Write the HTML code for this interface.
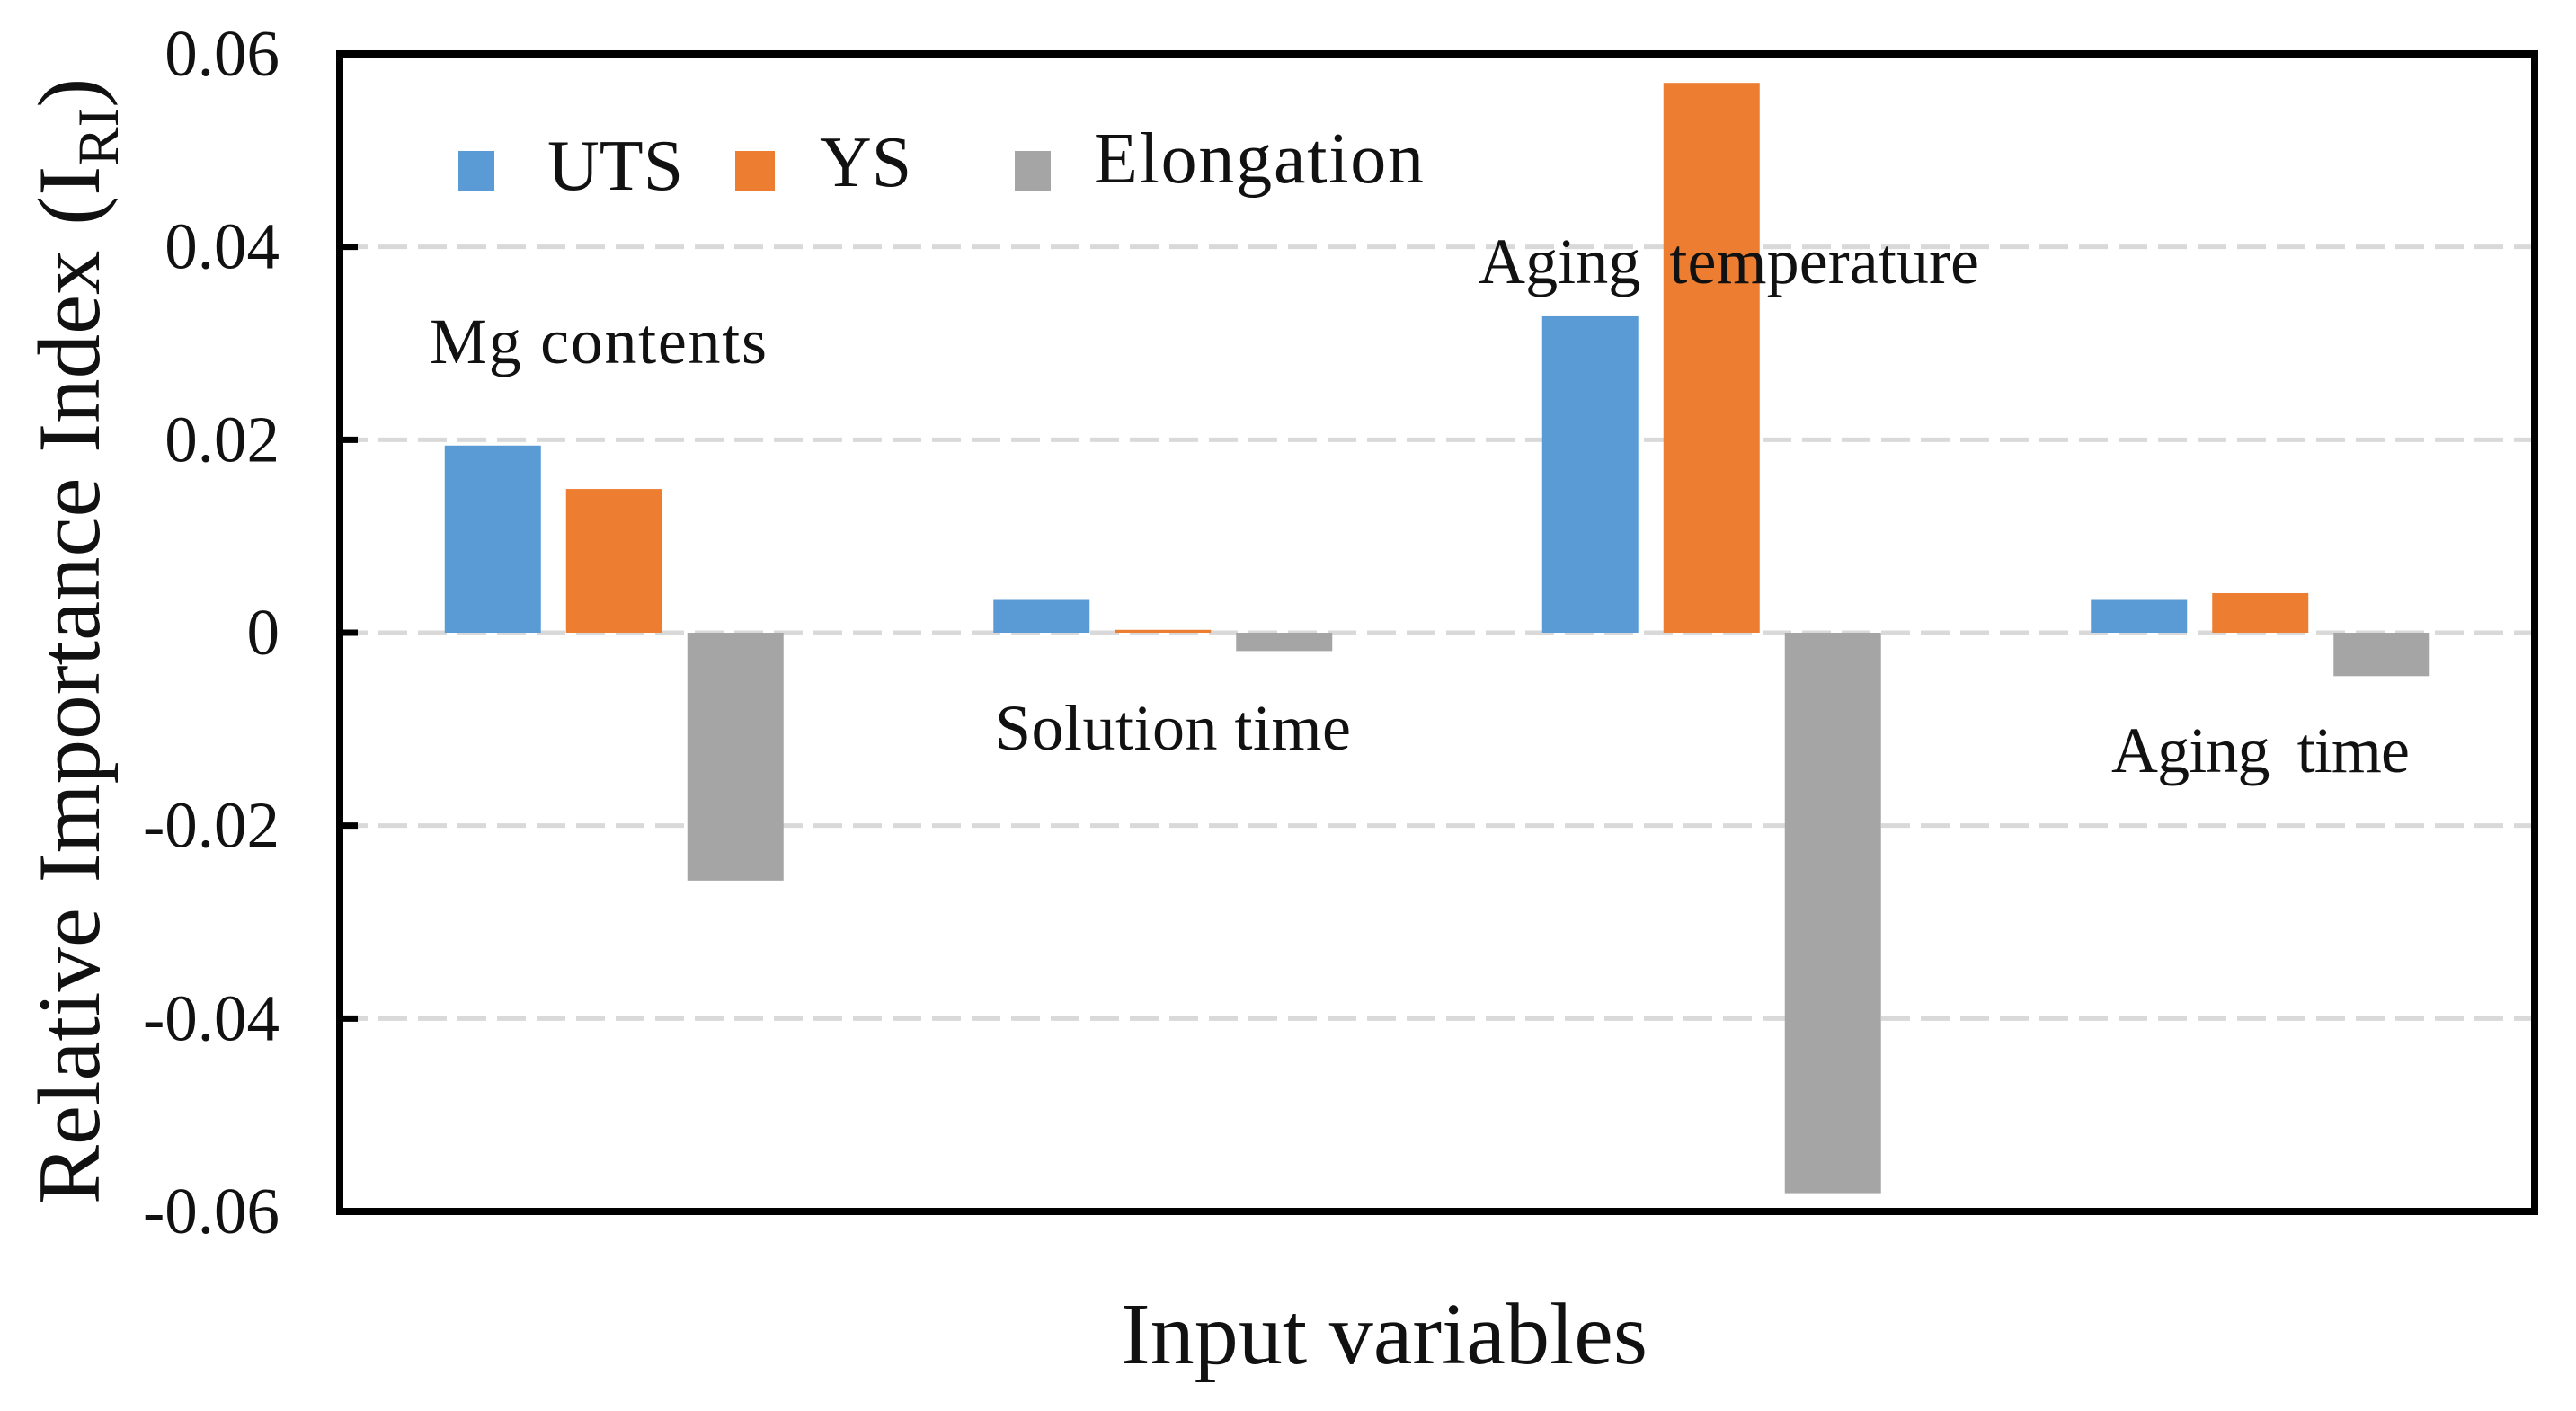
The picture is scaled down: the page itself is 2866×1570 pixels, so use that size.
<!DOCTYPE html>
<html lang="en">
<head>
<meta charset="utf-8">
<title>Relative Importance Index by input variable</title>
<style>
  html, body { margin: 0; padding: 0; background: #fff; }
  body { width: 2866px; height: 1570px; overflow: hidden; }
  svg { display: block; }
  text { font-family: "Liberation Serif", "Times New Roman", serif; fill: #111; }
</style>
</head>
<body>
<svg id="chart" xmlns="http://www.w3.org/2000/svg" width="2866" height="1570" viewBox="0 0 2866 1570">
  <rect x="0" y="0" width="2866" height="1570" fill="#fff"/>
  <g id="grid"></g>
  <g id="bars"></g>
  <rect x="378" y="60" width="2442" height="1288" fill="none" stroke="#000" stroke-width="8"/>
  <g id="ticks"></g>
  <g id="tick-labels" font-size="73" text-anchor="end"></g>

  <text transform="translate(110 1340) rotate(-90)" font-size="99" word-spacing="3">Relative Importance Index (I<tspan font-size="65" dy="21">RI</tspan><tspan dy="-21">)</tspan></text>
  <text x="1247" y="1517" font-size="98" textLength="586" lengthAdjust="spacing">Input variables</text>

  <g>
    <g>
      <rect x="510" y="168" width="40" height="44" fill="#5B9BD5"/>
      <text x="609" y="211" font-size="80">UTS</text>
    </g>
    <g>
      <rect x="818" y="168" width="44" height="44" fill="#ED7D31"/>
      <text x="912" y="207" font-size="80">YS</text>
    </g>
    <g>
      <rect x="1129" y="168" width="40" height="44" fill="#A5A5A5"/>
      <text x="1217" y="203" font-size="80" textLength="367" lengthAdjust="spacing">Elongation</text>
    </g>
  </g>

  <text x="478" y="404" font-size="72" textLength="375" lengthAdjust="spacing">Mg contents</text>
  <text x="1107" y="834" font-size="72" textLength="396" lengthAdjust="spacing">Solution time</text>
  <text x="1645" y="315" font-size="72" word-spacing="14" textLength="557" lengthAdjust="spacing">Aging temperature</text>
  <text x="2349" y="859" font-size="72" word-spacing="14" textLength="332" lengthAdjust="spacing">Aging time</text>
</svg>

<script>
const categories = ["Mg contents", "Solution time", "Aging temperature", "Aging time"];
const seriesNames = ["UTS", "YS", "Elongation"];
const utsValues = [0.0194, 0.0034, 0.0328, 0.0034];
const ysValues = [0.0149, 0.0003, 0.0570, 0.0041];
const elongationValues = [-0.0257, -0.0019, -0.0581, -0.0045];
const tickValues = [0.06, 0.04, 0.02, 0, -0.02, -0.04, -0.06];
const tickLabels = ["0.06", "0.04", "0.02", "0", "-0.02", "-0.04", "-0.06"];

const seriesColors = ["#5B9BD5", "#ED7D31", "#A5A5A5"];
const allSeries = [utsValues, ysValues, elongationValues];

const NS = "http://www.w3.org/2000/svg";
const plotLeft = 378, plotRight = 2820, plotTop = 60, plotBottom = 1348;
const yMax = 0.06, yMin = -0.06;

function yScale(v) {
  return plotTop + (yMax - v) / (yMax - yMin) * (plotBottom - plotTop);
}
function xCenter(i) {
  return plotLeft + (i + 0.5) * (plotRight - plotLeft) / categories.length;
}
const barStep = 135, barWidth = 107;

const gridGroup = document.getElementById("grid");
const tickGroup = document.getElementById("ticks");
const labelGroup = document.getElementById("tick-labels");

tickValues.forEach(function (value, i) {
  const y = yScale(value);
  const slug = tickLabels[i].replace(".", "-");

  if (value !== yMax && value !== yMin) {
    const grid = document.createElementNS(NS, "line");
    grid.setAttribute("x1", plotLeft - 1);
    grid.setAttribute("x2", plotRight - 4);
    grid.setAttribute("y1", y);
    grid.setAttribute("y2", y);
    grid.setAttribute("stroke", "#d9d9d9");
    grid.setAttribute("stroke-width", "5");
    grid.setAttribute("stroke-dasharray", "32 12");
    
    
    gridGroup.appendChild(grid);

    const tick = document.createElementNS(NS, "line");
    tick.setAttribute("x1", plotLeft);
    tick.setAttribute("x2", plotLeft + 20);
    tick.setAttribute("y1", y);
    tick.setAttribute("y2", y);
    tick.setAttribute("stroke", "#000");
    tick.setAttribute("stroke-width", "7");
    
    
    tickGroup.appendChild(tick);
  }

  const label = document.createElementNS(NS, "text");
  label.setAttribute("x", 311);
  label.setAttribute("y", y + 24);
  label.textContent = tickLabels[i];
  
  
  labelGroup.appendChild(label);
});

const barGroup = document.getElementById("bars");
allSeries.forEach(function (values, s) {
  values.forEach(function (value, c) {
    const y0 = yScale(0);
    const y1 = yScale(value);
    const bar = document.createElementNS(NS, "rect");
    bar.setAttribute("x", xCenter(c) + (s - 1) * barStep - barWidth / 2);
    bar.setAttribute("y", Math.min(y0, y1));
    bar.setAttribute("width", barWidth);
    bar.setAttribute("height", Math.abs(y1 - y0));
    bar.setAttribute("fill", seriesColors[s]);
    
    
    barGroup.appendChild(bar);
  });
});
</script>
</body>
</html>
